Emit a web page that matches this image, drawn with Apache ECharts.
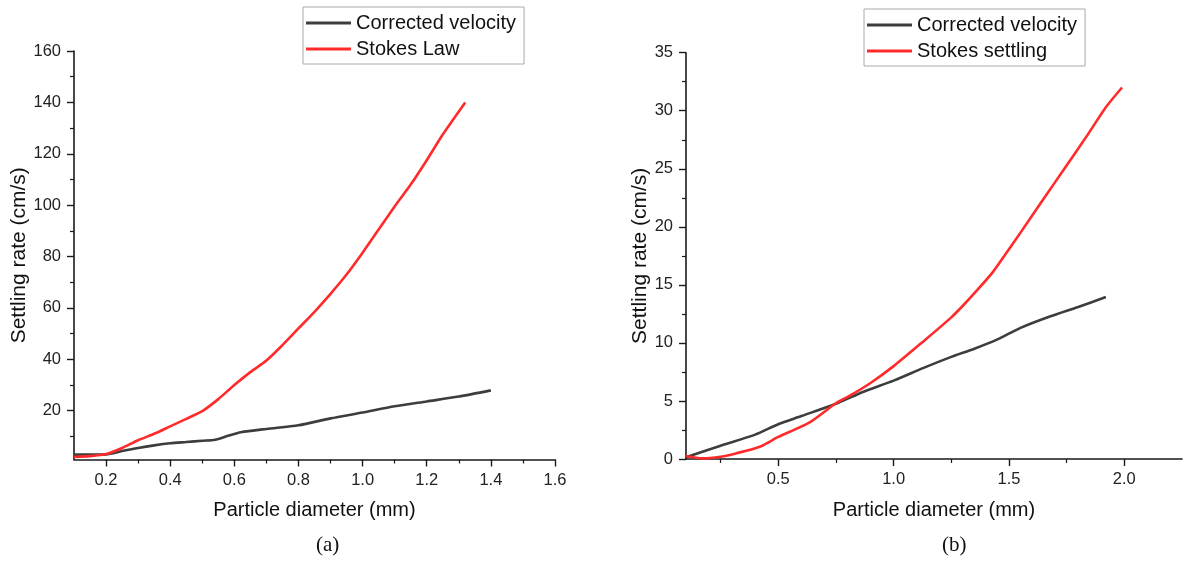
<!DOCTYPE html>
<html>
<head>
<meta charset="utf-8">
<script src="https://cdn.jsdelivr.net/npm/echarts@6/dist/echarts.min.js"></script>
<style>html,body{margin:0;padding:0;background:#fff}#c{width:1184px;height:562px}</style>
</head>
<body>
<div id="c"></div>
<script>
// ---- Panel (a) data ----
const aBlackX = [0.1,0.15,0.2,0.25,0.3,0.35,0.4,0.45,0.5,0.54,0.58,0.62,0.7,0.8,0.9,1.0,1.1,1.2,1.3,1.4];
const aBlackY = [2.9,2.9,3.0,4.3,5.5,6.5,7.3,7.8,8.3,8.7,10.2,11.6,12.9,14.3,17.0,19.3,21.7,23.6,25.5,27.9];
const aRedX = [0.1,0.15,0.2,0.25,0.3,0.35,0.4,0.45,0.5,0.55,0.6,0.65,0.7,0.75,0.8,0.85,0.9,0.95,1.0,1.05,1.1,1.15,1.2,1.25,1.32];
const aRedY = [2.0,2.3,3.1,5.5,8.5,11,13.9,16.8,19.8,24.5,30,35,39.5,45.5,52,58.5,65.5,73,81.5,90.5,99.5,108,117.5,127.5,140];
// ---- Panel (b) data ----
const bBlackX = [0.1,0.25,0.4,0.5,0.6,0.75,0.87,1.0,1.13,1.25,1.35,1.45,1.55,1.68,1.8,1.92];
const bBlackY = [0.15,1.15,2.1,3.0,3.7,4.76,5.8,6.75,7.85,8.8,9.5,10.3,11.3,12.3,13.1,13.95];
const bRedX = [0.1,0.17,0.25,0.32,0.42,0.5,0.55,0.64,0.75,0.81,0.9,1.0,1.13,1.25,1.3,1.36,1.43,1.48,1.55,1.66,1.74,1.84,1.92,1.99];
const bRedY = [0.25,0.05,0.2,0.5,1.06,1.9,2.35,3.2,4.8,5.45,6.55,8.0,10.15,12.2,13.2,14.5,16.1,17.5,19.5,22.7,25.0,27.9,30.3,32.0];
// ---- tick labels ----
const aXTicks = [0.2,0.4,0.6,0.8,1.0,1.2,1.4,1.6];
const aXMinor = [0.3,0.5,0.7,0.9,1.1,1.3,1.5];
const aYTicks = [20,40,60,80,100,120,140,160];
const aYMinor = [10,30,50,70,90,110,130,150];
const bXTicks = [0.5,1.0,1.5,2.0];
const bXMinor = [0.25,0.75,1.25,1.75];
const legendA = ['Corrected velocity','Stokes Law'];
const legendB = ['Corrected velocity','Stokes settling'];

const pair = (xs, ys) => xs.map((x, i) => [x, ys[i]]);
const FONT = "'Liberation Sans', Arial, sans-serif";
const AX = '#1a1a1a';
const lbl = {color:'#222', fontSize:16.5, fontFamily:FONT};
const BLACK = '#3d3d3d', RED = '#ff2b2b';

function mainX(grid, min, max, ticks, name) {
  return {
    type:'value', gridIndex:grid, min, max, position:'bottom',
    name, nameLocation:'middle', nameGap:41,
    nameTextStyle:{color:'#111', fontSize:20, fontFamily:FONT},
    axisLine:{show:true, onZero:false, lineStyle:{color:AX, width:1.6}},
    axisTick:{show:true, customValues:ticks, length:7, lineStyle:{color:AX, width:1.4}},
    axisLabel:Object.assign({customValues:ticks, margin:12, formatter:v => Number(v).toFixed(1)}, lbl),
    splitLine:{show:false}
  };
}
function minorX(grid, min, max, ticks) {
  return {
    type:'value', gridIndex:grid, min, max, position:'bottom', offset:0,
    axisLine:{show:false, onZero:false},
    axisTick:{show:true, customValues:ticks, length:4, lineStyle:{color:AX, width:1.2}},
    axisLabel:{show:false}, splitLine:{show:false}
  };
}
function legend(data, left, top) {
  return {data:data.map(n => ({name:n, icon:'rect'})), orient:'vertical', left, top,
    padding:[5,8,4,3], itemGap:4, itemWidth:45, itemHeight:3,
    borderColor:'#aaa', borderWidth:1, width:212,
    textStyle:{color:'#111', fontSize:20, fontFamily:FONT, lineHeight:22}};
}
function line(name, xi, yi, xs, ys, color, z) {
  return {name, type:'line', xAxisIndex:xi, yAxisIndex:yi, symbol:'none', smooth:0.25,
    data:pair(xs, ys), lineStyle:{color, width:2.6}, itemStyle:{color}, z};
}

const option = {
  animation:false,
  backgroundColor:'#fff',
  grid:[
    {left:74, top:51, width:481, height:408.5},
    {left:686, top:52.7, width:496, height:406.3}
  ],
  legend:[ legend(legendA, 303, 7), legend(legendB, 864, 9) ],
  xAxis:[
    mainX(0, 0.1, 1.6, aXTicks, 'Particle diameter (mm)'),
    minorX(0, 0.1, 1.6, aXMinor),
    mainX(1, 0.1, 2.25, bXTicks, 'Particle diameter (mm)'),
    minorX(1, 0.1, 2.25, bXMinor)
  ],
  yAxis:[
    {type:'value', gridIndex:0, min:1, max:160, position:'left',
     name:'Settling rate (cm/s)', nameLocation:'middle', nameGap:43,
     nameTextStyle:{color:'#111', fontSize:21, fontFamily:FONT},
     axisLine:{show:true, onZero:false, lineStyle:{color:AX, width:1.6}},
     axisTick:{show:true, customValues:aYTicks, length:7, lineStyle:{color:AX, width:1.4}},
     axisLabel:Object.assign({customValues:aYTicks, margin:13}, lbl),
     splitLine:{show:false}},
    {type:'value', gridIndex:0, min:1, max:160, position:'left', offset:0,
     axisLine:{show:false, onZero:false},
     axisTick:{show:true, customValues:aYMinor, length:4, lineStyle:{color:AX, width:1.2}},
     axisLabel:{show:false}, splitLine:{show:false}},
    {type:'value', gridIndex:1, min:0, max:35, interval:5, position:'left',
     name:'Settling rate (cm/s)', nameLocation:'middle', nameGap:35,
     nameTextStyle:{color:'#111', fontSize:21, fontFamily:FONT},
     axisLine:{show:true, onZero:false, lineStyle:{color:AX, width:1.6}},
     axisTick:{show:true, length:7, lineStyle:{color:AX, width:1.4}},
     minorTick:{show:true, splitNumber:2, length:4, lineStyle:{color:AX, width:1.2}},
     axisLabel:Object.assign({margin:13}, lbl),
     splitLine:{show:false}}
  ],
  series:[
    line('Corrected velocity', 0, 0, aBlackX, aBlackY, BLACK, 3),
    line('Stokes Law', 0, 0, aRedX, aRedY, RED, 4),
    line('Corrected velocity', 2, 2, bBlackX, bBlackY, BLACK, 3),
    line('Stokes settling', 2, 2, bRedX, bRedY, RED, 4)
  ],
  graphic:[
    {type:'text', left:316, top:535, style:{text:'(a)', fill:'#111', font:"21px 'Liberation Serif', 'Times New Roman', serif"}},
    {type:'text', left:942, top:535, style:{text:'(b)', fill:'#111', font:"21px 'Liberation Serif', 'Times New Roman', serif"}}
  ]
};
const chart = echarts.init(document.getElementById('c'), null, {renderer:'canvas'});
chart.setOption(option);
</script>
</body>
</html>
